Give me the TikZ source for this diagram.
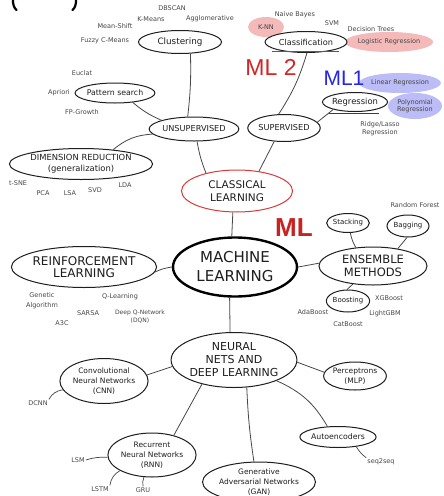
\documentclass[tikz,border=0pt]{standalone}
\usepackage{fontspec}
\setmainfont{DejaVu Sans}
\newfontfamily\arialf{Liberation Sans}
\usetikzlibrary{shapes.geometric}
\newcommand\fsz[2]{\fontsize{#1}{#2}\selectfont}
\definecolor{pinkc}{HTML}{F4B9B9}
\definecolor{lavc}{HTML}{BCBCF6}
\definecolor{redc}{HTML}{D42424}
\definecolor{bluec}{HTML}{2626E6}
\definecolor{inkc}{HTML}{1E1E1E}
\begin{document}
\begin{tikzpicture}[x=1pt,y=-1pt,
  bub/.style={ellipse, draw=inkc, line width=1pt, inner sep=0pt, fill=white, align=center, text=inkc},
  sz/.style 2 args={minimum width=#1pt, minimum height=#2pt},
  lbl/.style={font=\fsz{6.5}{8}, text=black!72, inner sep=1pt, align=center},
  tint/.style={ellipse, inner sep=0pt, align=center, text=black!72},
  con/.style={draw=black!72, line width=0.8pt},
  small/.style={draw=black!72, line width=0.7pt},
  paren/.style={draw=black, line width=2.2pt, line cap=round}
]
\useasboundingbox (0,0) rectangle (444,496);
\clip (0,0) rectangle (444,496);
\fill[white] (0,0) rectangle (444,496);

% cropped heading parentheses (lower ends only)
\draw[paren] (13,-2) .. controls (12.5,4) and (14,8) .. (16.5,10);
\draw[paren] (76,-2) .. controls (76.5,4) and (75,8) .. (72.5,10);

% coloured highlights
\node[tint, fill=pinkc, sz={36}{20}, font=\fsz{6.5}{8}] (knn) at (266,27) {K-NN};
\node[tint, fill=pinkc, sz={81}{20}, font=\fsz{6.5}{8}] (logr) at (389,42) {Logistic Regression};
\node[tint, fill=lavc, sz={72}{20}, font=\fsz{6.5}{8}] (linr) at (400,83) {Linear Regression};
\node[tint, fill=lavc, sz={54}{26}, font=\fsz{6.5}{7.5}] (polyr) at (415,106) {Polynomial\\Regression};

% main bubbles
\node[bub, sz={83}{23}, font=\fsz{8.8}{10}] (clu) at (180,42) {Clustering};
\node[bub, sz={75}{20}, font=\fsz{7.8}{9}] (pat) at (115,93) {Pattern search};
\node[bub, sz={76}{24}, font=\fsz{8.2}{10}] (uns) at (194,129) {UNSUPERVISED};
\node[bub, sz={132}{31}, font=\fsz{8.4}{10.5}] (dim) at (81,164) {DIMENSION REDUCTION\\(generalization)};
\node[bub, sz={82}{21}, font=\fsz{8.2}{10}] (cls) at (306,42) {Classification};
\node[bub, sz={70}{27}, font=\fsz{8.2}{10}] (sup) at (284,128) {SUPERVISED};
\node[bub, sz={61}{19}, font=\fsz{8.4}{10}] (reg) at (355,102) {Regression};
\node[bub, draw=redc!90, sz={111}{42}, font=\fsz{10.5}{13}] (clas) at (237,191) {CLASSICAL\\LEARNING};
\node[bub, line width=2.4pt, draw=black, sz={124}{59}, font=\fsz{15}{19}] (ml) at (235,267) {MACHINE\\LEARNING};
\node[bub, sz={125}{41}, font=\fsz{12}{12.5}] (rl) at (84,267) {REINFORCEMENT\\LEARNING};
\node[bub, sz={108}{38}, font=\fsz{11.5}{13}] (ens) at (373,266) {ENSEMBLE\\METHODS};
\node[bub, sz={38}{19}, font=\fsz{7}{8}] (stack) at (348,223) {Stacking};
\node[bub, sz={42}{22}, font=\fsz{7}{8}] (bag) at (408,226) {Bagging};
\node[bub, sz={42}{22}, font=\fsz{7}{8}] (boost) at (348,301) {Boosting};
\node[bub, sz={115}{55}, font=\fsz{11}{13}] (nn) at (234,360) {NEURAL\\NETS AND\\DEEP LEARNING};
\node[bub, sz={85}{45}, font=\fsz{7.5}{10}] (cnn) at (104,381) {Convolutional\\Neural Networks\\(CNN)};
\node[bub, sz={83}{44}, font=\fsz{7.5}{10}] (rnn) at (152,455) {Recurrent\\Neural Networks\\(RNN)};
\node[bub, sz={61}{28}, font=\fsz{7.5}{10}] (mlp) at (355,376) {Perceptrons\\(MLP)};
\node[bub, sz={68}{21}, font=\fsz{7.8}{10}] (ae) at (338,437) {Autoencoders};
\node[bub, sz={110}{40}, font=\fsz{7.5}{10}] (gan) at (259,482) {Generative\\Adversarial Networks\\(GAN)};

% underlines
\draw[redc, line width=1.6pt] ([xshift=-34pt,yshift=1.5pt]cls.south) -- ([xshift=33pt,yshift=1.5pt]cls.south);
\draw[bluec, line width=1.6pt] ([xshift=-26pt,yshift=-1.5pt]reg.south) -- ([xshift=24pt,yshift=-1.5pt]reg.south);

% big tags
\node[font=\arialf\fsz{23}{25}, text=redc] (ml2) at (271,67) {ML 2};
\node[font=\arialf\fsz{21}{23}, text=bluec] (ml1) at (344,78) {ML1};
\node[font=\arialf\bfseries\fsz{26}{28}, text=redc!95!black] (mltag) at (294,228) {ML};

% leaf labels
\node[lbl] (dbscan) at (172,8) {DBSCAN};
\node[lbl] (kmeans) at (151,19) {K-Means};
\node[lbl] (agglo) at (210,19) {Agglomerative};
\node[lbl] (meansh) at (115,26) {Mean-Shift};
\node[lbl] (fuzzy) at (105,41) {Fuzzy C-Means};
\node[lbl] (euclat) at (82,73) {Euclat};
\node[lbl] (apriori) at (59,93) {Apriori};
\node[lbl] (fpg) at (82,112) {FP-Growth};
\node[lbl] (naive) at (295,15) {Naive Bayes};
\node[lbl] (svm) at (332,23) {SVM};
\node[lbl] (dtree) at (371,29) {Decision Trees};
\node[lbl, font=\fsz{6.5}{8}] (ridge) at (380,129) {Ridge/Lasso\\Regression};
\node[lbl] (tsne) at (18,183) {t-SNE};
\node[lbl] (pca) at (43,193) {PCA};
\node[lbl] (lsa) at (70,193) {LSA};
\node[lbl] (svd) at (95,190) {SVD};
\node[lbl] (lda) at (125,185) {LDA};
\node[lbl] (rf) at (415,205) {Random Forest};
\node[lbl] (xgb) at (389,298) {XGBoost};
\node[lbl] (ada) at (313,312) {AdaBoost};
\node[lbl] (lgbm) at (385,314) {LightGBM};
\node[lbl] (catb) at (348,324) {CatBoost};
\node[lbl, font=\fsz{6.5}{10}] (gen) at (42,301) {Genetic\\Algorithm};
\node[lbl] (qlearn) at (120,297) {Q-Learning};
\node[lbl] (sarsa) at (88,313) {SARSA};
\node[lbl, font=\fsz{6}{8}] (dqn) at (140,317) {Deep Q-Network\\(DQN)};
\node[lbl] (a3c) at (62,323) {A3C};
\node[lbl] (dcnn) at (38,403) {DCNN};
\node[lbl] (lsm) at (78,460) {LSM};
\node[lbl] (lstm) at (100,489) {LSTM};
\node[lbl] (gru) at (143,490) {GRU};
\node[lbl] (s2s) at (381,462) {seq2seq};

% connectors
\draw[con] (clu.-48) to[bend left=4] (uns.117);
\draw[con] (pat.-28) to[bend right=8] (uns.165);
\draw[con] (uns.187) to[bend right=18] (dim.24);
\draw[con] (uns.-76) to[bend right=6] (clas.150);
\draw[con] (cls.-85) to[bend left=8] (sup.111);
\draw[con] (sup.10) to (reg.199);
\draw[con] (sup.234) to (clas.42);
\draw[con] (clas.259) to (ml.96);
\draw[con] (rl.-4) to[bend left=8] (ml.180);
\draw[con] (ml.0) to (ens.177);
\draw[con] (stack.-77) to[bend right=8] (ens.133);
\draw[con] (bag.-95) to (ens.35);
\draw[con] (ens.222) to (boost.95);
\draw[con] (ml.260) to (nn.98);
\draw[con] (nn.186) to (cnn.8);
\draw[con] (nn.217) to (rnn.42);
\draw[con] (nn.-65) to[bend right=3] (gan.104);
\draw[con] (nn.-26) to[bend left=18] (ae.135);
\draw[con] (nn.-2) to (mlp.173);
\draw[small] (dcnn.north east) to[bend left=25] (cnn.192);
\draw[small] (lsm.east) to[bend left=10] (rnn.183);
\draw[small] (lstm.north east) to[bend left=25] (rnn.206);
\draw[small] (gru.north) to[bend left=15] (rnn.250);
\draw[small] (ae.-28) to[bend right=10] (s2s.north west);
\end{tikzpicture}
\end{document}
